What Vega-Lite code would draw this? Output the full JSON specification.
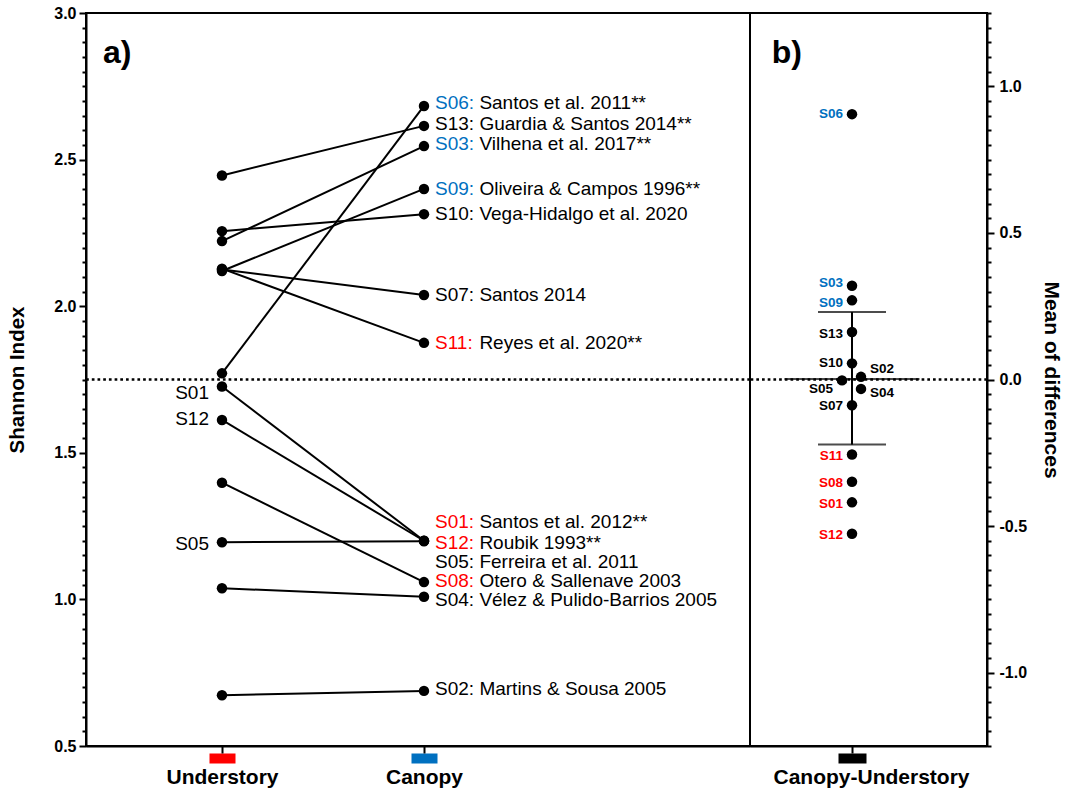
{
  "$schema": "https://vega.github.io/schema/vega-lite/v6.json",
  "background": "white",
  "padding": {"left": 6, "top": 4, "right": 5, "bottom": 0},
  "spacing": 0,
  "bounds": "flush",
  "config": {
    "view": {"stroke": "black", "strokeWidth": 2},
    "axis": {"domainColor": "black", "domainWidth": 2, "tickColor": "black", "tickWidth": 2, "labelColor": "black", "titleColor": "black", "labelFont": "Liberation Sans", "titleFont": "Liberation Sans", "labelFontWeight": "bold", "titleFontWeight": "bold", "grid": false, "labelLimit": 400},
    "text": {"font": "Liberation Sans"},
    "title": {"font": "Liberation Sans"}
  },
  "datasets": {
    "paired": [
      {"site": "S01", "stratum": "Understory", "value": 1.726}, {"site": "S01", "stratum": "Canopy", "value": 1.200},
      {"site": "S02", "stratum": "Understory", "value": 0.673}, {"site": "S02", "stratum": "Canopy", "value": 0.688},
      {"site": "S03", "stratum": "Understory", "value": 2.222}, {"site": "S03", "stratum": "Canopy", "value": 2.546},
      {"site": "S04", "stratum": "Understory", "value": 1.038}, {"site": "S04", "stratum": "Canopy", "value": 1.009},
      {"site": "S05", "stratum": "Understory", "value": 1.195}, {"site": "S05", "stratum": "Canopy", "value": 1.198},
      {"site": "S06", "stratum": "Understory", "value": 1.771}, {"site": "S06", "stratum": "Canopy", "value": 2.683},
      {"site": "S07", "stratum": "Understory", "value": 2.125}, {"site": "S07", "stratum": "Canopy", "value": 2.038},
      {"site": "S08", "stratum": "Understory", "value": 1.398}, {"site": "S08", "stratum": "Canopy", "value": 1.059},
      {"site": "S09", "stratum": "Understory", "value": 2.120}, {"site": "S09", "stratum": "Canopy", "value": 2.400},
      {"site": "S10", "stratum": "Understory", "value": 2.256}, {"site": "S10", "stratum": "Canopy", "value": 2.314},
      {"site": "S11", "stratum": "Understory", "value": 2.128}, {"site": "S11", "stratum": "Canopy", "value": 1.875},
      {"site": "S12", "stratum": "Understory", "value": 1.612}, {"site": "S12", "stratum": "Canopy", "value": 1.200},
      {"site": "S13", "stratum": "Understory", "value": 2.446}, {"site": "S13", "stratum": "Canopy", "value": 2.615}
    ],
    "canopyLabels": [
      {"site": "S06", "stratum": "Canopy", "code": "S06:", "ref": "Santos et al. 2011**", "group": "up", "labelValue": 2.694},
      {"site": "S13", "stratum": "Canopy", "code": "S13:", "ref": "Guardia & Santos 2014**", "group": "ns", "labelValue": 2.621},
      {"site": "S03", "stratum": "Canopy", "code": "S03:", "ref": "Vilhena et al. 2017**", "group": "up", "labelValue": 2.553},
      {"site": "S09", "stratum": "Canopy", "code": "S09:", "ref": "Oliveira & Campos 1996**", "group": "up", "labelValue": 2.400},
      {"site": "S10", "stratum": "Canopy", "code": "S10:", "ref": "Vega-Hidalgo et al. 2020", "group": "ns", "labelValue": 2.314},
      {"site": "S07", "stratum": "Canopy", "code": "S07:", "ref": "Santos 2014", "group": "ns", "labelValue": 2.038},
      {"site": "S11", "stratum": "Canopy", "code": "S11:", "ref": "Reyes et al. 2020**", "group": "down", "labelValue": 1.876},
      {"site": "S01", "stratum": "Canopy", "code": "S01:", "ref": "Santos et al. 2012**", "group": "down", "labelValue": 1.265},
      {"site": "S12", "stratum": "Canopy", "code": "S12:", "ref": "Roubik 1993**", "group": "down", "labelValue": 1.193},
      {"site": "S05", "stratum": "Canopy", "code": "S05:", "ref": "Ferreira et al. 2011", "group": "ns", "labelValue": 1.129},
      {"site": "S08", "stratum": "Canopy", "code": "S08:", "ref": "Otero & Sallenave 2003", "group": "down", "labelValue": 1.063},
      {"site": "S04", "stratum": "Canopy", "code": "S04:", "ref": "Vélez & Pulido-Barrios 2005", "group": "ns", "labelValue": 0.998},
      {"site": "S02", "stratum": "Canopy", "code": "S02:", "ref": "Martins & Sousa 2005", "group": "ns", "labelValue": 0.694}
    ],
    "understoryLabels": [
      {"site": "S01", "stratum": "Understory", "labelValue": 1.704},
      {"site": "S12", "stratum": "Understory", "labelValue": 1.616},
      {"site": "S05", "stratum": "Understory", "labelValue": 1.189}
    ],
    "diffs": [
      {"site": "S06", "stratum": "Canopy-Understory", "diff": 0.905, "group": "up", "jitter": 0, "side": "left", "labelValue": 0.905},
      {"site": "S03", "stratum": "Canopy-Understory", "diff": 0.320, "group": "up", "jitter": 0, "side": "left", "labelValue": 0.330},
      {"site": "S09", "stratum": "Canopy-Understory", "diff": 0.270, "group": "up", "jitter": 0, "side": "left", "labelValue": 0.262},
      {"site": "S13", "stratum": "Canopy-Understory", "diff": 0.162, "group": "ns", "jitter": 0, "side": "left", "labelValue": 0.156},
      {"site": "S10", "stratum": "Canopy-Understory", "diff": 0.055, "group": "ns", "jitter": 0, "side": "left", "labelValue": 0.055},
      {"site": "S02", "stratum": "Canopy-Understory", "diff": 0.009, "group": "ns", "jitter": 0.9, "side": "right", "labelValue": 0.035},
      {"site": "S05", "stratum": "Canopy-Understory", "diff": -0.003, "group": "ns", "jitter": -1, "side": "left", "labelValue": -0.033},
      {"site": "S04", "stratum": "Canopy-Understory", "diff": -0.032, "group": "ns", "jitter": 0.9, "side": "right", "labelValue": -0.046},
      {"site": "S07", "stratum": "Canopy-Understory", "diff": -0.088, "group": "ns", "jitter": 0, "side": "left", "labelValue": -0.092},
      {"site": "S11", "stratum": "Canopy-Understory", "diff": -0.256, "group": "down", "jitter": 0, "side": "left", "labelValue": -0.262},
      {"site": "S08", "stratum": "Canopy-Understory", "diff": -0.349, "group": "down", "jitter": 0, "side": "left", "labelValue": -0.353},
      {"site": "S01", "stratum": "Canopy-Understory", "diff": -0.419, "group": "down", "jitter": 0, "side": "left", "labelValue": -0.425},
      {"site": "S12", "stratum": "Canopy-Understory", "diff": -0.526, "group": "down", "jitter": 0, "side": "left", "labelValue": -0.529}
    ],
    "summary": [
      {"stratum": "Canopy-Understory", "mean": 0.002, "lo": -0.222, "hi": 0.230}
    ]
  },
  "hconcat": [
    {
      "width": 664,
      "height": 733,
      "title": {"text": "a)", "anchor": "start", "frame": "group", "orient": "top", "offset": -90, "dx": 17, "baseline": "alphabetic", "fontSize": 32, "fontWeight": "bold", "color": "black"},
      "resolve": {"axis": {"x": "independent"}},
      "layer": [
        {
          "data": {"values": [{}]},
          "mark": {"type": "rule", "color": "black", "strokeWidth": 2.5, "strokeDash": [2.7, 3]},
          "encoding": {"y": {"datum": 1.75, "type": "quantitative"}}
        },
        {
          "data": {"name": "paired"},
          "mark": {"type": "line", "color": "black", "strokeWidth": 2},
          "encoding": {
            "x": {"field": "stratum", "type": "nominal", "scale": {"type": "point", "domain": ["Understory", "Canopy", "spacer"], "padding": 0.6436, "align": 0.523},
                  "axis": {"orient": "bottom", "values": ["Understory", "Canopy"], "title": null, "domain": false, "labels": false, "ticks": true, "tickSize": 17, "tickWidth": 26, "tickDash": [0, 7, 10, 40],
                           "tickColor": {"condition": {"test": "datum.value === 'Understory'", "value": "#FF0000"}, "value": "#0070C0"}}},
            "y": {"field": "value", "type": "quantitative", "title": "Shannon Index", "scale": {"domain": [0.5, 3.0], "nice": false, "zero": false},
                  "axis": {"orient": "left", "tickCount": 50, "labelOverlap": false, "labelFontSize": 16, "labelPadding": 3,
                           "labelExpr": "abs(datum.value*2 - round(datum.value*2)) < 0.001 ? replace(format(datum.value, '.1f'), '−', '-') : ''",
                           "tickSize": {"condition": {"test": "abs(datum.value*2 - round(datum.value*2)) < 0.001", "value": 7}, "value": 4},
                           "titleFontSize": 20.5, "titlePadding": 26}},
            "detail": {"field": "site"}
          }
        },
        {
          "data": {"name": "paired"},
          "mark": {"type": "circle", "color": "black", "size": 110, "opacity": 1},
          "encoding": {
            "x": {"field": "stratum", "type": "nominal", "scale": {"type": "point", "domain": ["Understory", "Canopy", "spacer"], "padding": 0.6436, "align": 0.523},
                  "axis": {"orient": "bottom", "values": ["Understory", "Canopy"], "title": null, "domain": true, "ticks": true, "tickSize": 7, "tickWidth": 2, "labels": true, "labelAngle": 0, "labelFontSize": 21, "labelPadding": 13}},
            "y": {"field": "value", "type": "quantitative", "title": "Shannon Index"}
          }
        },
        {
          "data": {"name": "canopyLabels"},
          "mark": {"type": "text", "align": "left", "baseline": "middle", "dx": 11, "fontSize": 19},
          "encoding": {
            "x": {"field": "stratum", "type": "nominal", "axis": null},
            "y": {"field": "labelValue", "type": "quantitative", "title": "Shannon Index"},
            "text": {"field": "code"},
            "color": {"field": "group", "type": "nominal", "scale": {"domain": ["up", "down", "ns"], "range": ["#0070C0", "#FF0000", "#000000"]}, "legend": null}
          }
        },
        {
          "data": {"name": "canopyLabels"},
          "mark": {"type": "text", "align": "left", "baseline": "middle", "dx": 55.4, "fontSize": 19, "color": "black"},
          "encoding": {
            "x": {"field": "stratum", "type": "nominal", "axis": null},
            "y": {"field": "labelValue", "type": "quantitative", "title": "Shannon Index"},
            "text": {"field": "ref"}
          }
        },
        {
          "data": {"name": "understoryLabels"},
          "mark": {"type": "text", "align": "right", "baseline": "middle", "dx": -13, "fontSize": 19, "color": "black"},
          "encoding": {
            "x": {"field": "stratum", "type": "nominal", "axis": null},
            "y": {"field": "labelValue", "type": "quantitative", "title": "Shannon Index"},
            "text": {"field": "site"}
          }
        }
      ]
    },
    {
      "width": 237,
      "height": 733,
      "title": {"text": "b)", "anchor": "start", "frame": "group", "orient": "top", "offset": -90, "dx": 21.7, "baseline": "alphabetic", "fontSize": 32, "fontWeight": "bold", "color": "black"},
      "resolve": {"axis": {"x": "independent"}},
      "layer": [
        {
          "data": {"values": [{}]},
          "mark": {"type": "rule", "color": "black", "strokeWidth": 2.5, "strokeDash": [2.7, 3]},
          "encoding": {"y": {"datum": 0, "type": "quantitative"}}
        },
        {
          "data": {"name": "summary"},
          "mark": {"type": "rule", "color": "black", "strokeWidth": 2},
          "encoding": {
            "x": {"field": "stratum", "type": "nominal", "scale": {"type": "point", "domain": ["Canopy-Understory"], "align": 0.4304},
                  "axis": {"orient": "bottom", "title": null, "domain": false, "labels": false, "ticks": true, "tickSize": 17, "tickWidth": 28, "tickDash": [0, 7, 10, 40], "tickColor": "black"}},
            "y": {"field": "lo", "type": "quantitative", "title": "Mean of differences", "scale": {"domain": [-1.25, 1.25], "nice": false, "zero": false},
                  "axis": {"orient": "right", "tickCount": 50, "labelOverlap": false, "labelFontSize": 16, "labelPadding": 5,
                           "labelExpr": "abs(datum.value*2 - round(datum.value*2)) < 0.001 ? replace(format(datum.value, '.1f'), '−', '-') : ''",
                           "tickSize": {"condition": {"test": "abs(datum.value*2 - round(datum.value*2)) < 0.001", "value": 7}, "value": 4},
                           "titleFontSize": 21, "titlePadding": 14}},
            "y2": {"field": "hi"}
          }
        },
        {
          "data": {"name": "summary"},
          "mark": {"type": "tick", "color": "black", "size": 68, "thickness": 2},
          "encoding": {
            "x": {"field": "stratum", "type": "nominal", "axis": null},
            "y": {"field": "lo", "type": "quantitative", "title": "Mean of differences"}
          }
        },
        {
          "data": {"name": "summary"},
          "mark": {"type": "tick", "color": "black", "size": 68, "thickness": 2},
          "encoding": {
            "x": {"field": "stratum", "type": "nominal", "axis": null},
            "y": {"field": "hi", "type": "quantitative", "title": "Mean of differences"}
          }
        },
        {
          "data": {"name": "summary"},
          "mark": {"type": "tick", "color": "black", "size": 135, "thickness": 2},
          "encoding": {
            "x": {"field": "stratum", "type": "nominal", "axis": null},
            "y": {"field": "mean", "type": "quantitative", "title": "Mean of differences"}
          }
        },
        {
          "data": {"name": "diffs"},
          "mark": {"type": "circle", "color": "black", "size": 110, "opacity": 1},
          "encoding": {
            "x": {"field": "stratum", "type": "nominal",
                  "axis": {"orient": "bottom", "title": null, "domain": true, "ticks": true, "tickSize": 7, "tickWidth": 2, "labels": true, "labelAngle": 0, "labelFontSize": 21, "labelPadding": 13, "labelOffset": 19}},
            "xOffset": {"field": "jitter", "type": "quantitative", "scale": {"domain": [-1, 1], "range": [-10, 10]}},
            "y": {"field": "diff", "type": "quantitative", "title": "Mean of differences"}
          }
        },
        {
          "data": {"name": "diffs"},
          "transform": [{"filter": "datum.side === 'left'"}],
          "mark": {"type": "text", "align": "right", "baseline": "middle", "dx": -9, "fontSize": 13.5, "fontWeight": "bold"},
          "encoding": {
            "x": {"field": "stratum", "type": "nominal", "axis": null},
            "xOffset": {"field": "jitter", "type": "quantitative", "scale": {"domain": [-1, 1], "range": [-10, 10]}},
            "y": {"field": "labelValue", "type": "quantitative", "title": "Mean of differences"},
            "text": {"field": "site"},
            "color": {"field": "group", "type": "nominal", "scale": {"domain": ["up", "down", "ns"], "range": ["#0070C0", "#FF0000", "#000000"]}, "legend": null}
          }
        },
        {
          "data": {"name": "diffs"},
          "transform": [{"filter": "datum.side === 'right'"}],
          "mark": {"type": "text", "align": "left", "baseline": "middle", "dx": 9, "fontSize": 13.5, "fontWeight": "bold", "color": "black"},
          "encoding": {
            "x": {"field": "stratum", "type": "nominal", "axis": null},
            "xOffset": {"field": "jitter", "type": "quantitative", "scale": {"domain": [-1, 1], "range": [-10, 10]}},
            "y": {"field": "labelValue", "type": "quantitative", "title": "Mean of differences"},
            "text": {"field": "site"}
          }
        }
      ]
    }
  ]
}
